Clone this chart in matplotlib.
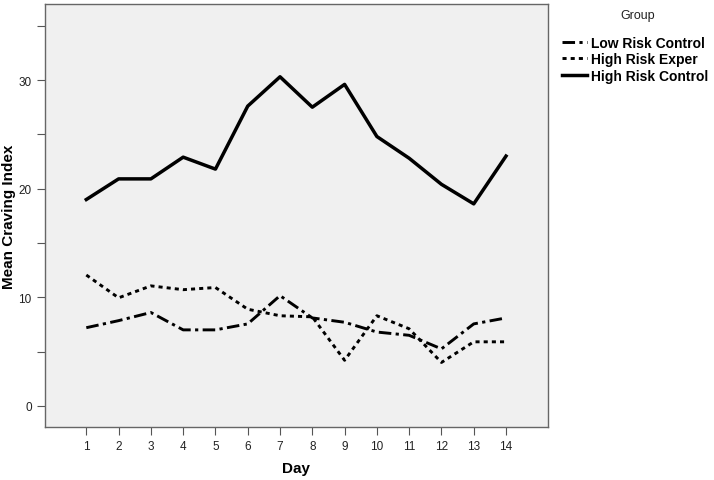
import matplotlib
matplotlib.use("Agg")
import matplotlib.pyplot as plt

plt.rcParams['font.family'] = ['Liberation Sans', 'DejaVu Sans']

days = list(range(1, 15))
low_risk_control = [7.2, 7.85, 8.6, 7.0, 7.0, 7.55, 10.15, 8.1, 7.7, 6.8, 6.5, 5.25, 7.55, 8.1]
high_risk_exper = [12.05, 9.95, 11.05, 10.7, 10.9, 8.9, 8.3, 8.2, 4.2, 8.3, 7.1, 4.0, 5.9, 5.9]
high_risk_control = [19.0, 20.9, 20.9, 22.9, 21.8, 27.6, 30.3, 27.5, 29.6, 24.8, 22.8, 20.4, 18.6, 23.0]
group_labels = ["Low Risk Control", "High Risk Exper", "High Risk Control"]

fig = plt.figure(figsize=(7.14, 4.81), dpi=100)
ax = fig.add_axes([0.063, 0.110, 0.7045, 0.8796])
ax.set_facecolor("#f0f0f0")

ax.plot(days, low_risk_control, color="black", lw=2.1,
        linestyle=(0, (4.3, 1.5, 1.1, 1.5)), label=group_labels[0])
ax.plot(days, high_risk_exper, color="black", lw=2.1,
        linestyle=(0, (1.4, 1.4)), label=group_labels[1])
ax.plot(days, high_risk_control, color="black", lw=2.5,
        linestyle="-", label=group_labels[2])

ax.set_xlim(-0.28, 15.3)
ax.set_ylim(-1.95, 37.0)
ax.set_xticks(days)
ax.set_yticks([0, 5, 10, 15, 20, 25, 30, 35])
ax.set_yticklabels(["0", "", "10", "", "20", "", "30", ""])
ax.tick_params(axis="both", colors="#555555", labelcolor="#222222",
               labelsize=8.5, length=6, width=0.8)
for sp in ax.spines.values():
    sp.set_color("#666666")
    sp.set_linewidth(1.0)

ax.set_xlabel("Day", fontsize=11, fontweight="bold", labelpad=6)
ax.set_ylabel("Mean Craving Index", fontsize=11, fontweight="bold", labelpad=2)

# legend title drawn separately so the gap matches
fig.text(0.8925, 0.966, "Group", ha="center", va="center", fontsize=9, color="#222222")
fig.legend(loc="upper left", bbox_to_anchor=(0.77, 0.95), frameon=False,
           prop={"weight": "bold", "size": 10},
           handlelength=1.8, handletextpad=0.3, labelspacing=0.2)

fig.savefig("out.png", dpi=100)
